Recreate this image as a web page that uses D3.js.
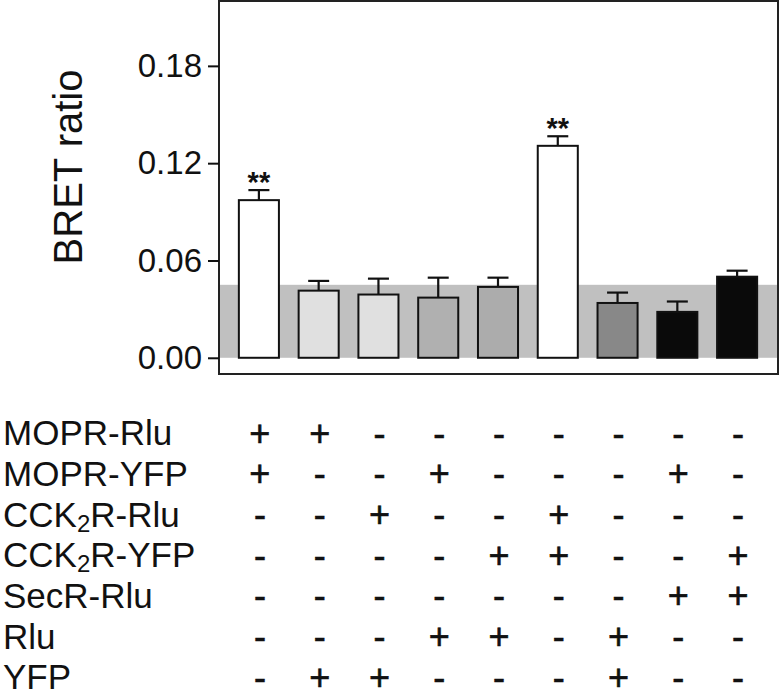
<!DOCTYPE html>
<html>
<head>
    <title>BRET ratio</title>
    <script src="https://d3js.org/d3.v7.min.js"></script>
    <style>
        body { margin: 0; background: #fff; }
        text { font-family: "Liberation Sans", Arial, sans-serif; fill: #111; }
    </style>
</head>
<body>
<script>
// bar values
const conditions = ['c1', 'c2', 'c3', 'c4', 'c5', 'c6', 'c7', 'c8', 'c9'];
const bretMeans = [0.0972, 0.0414, 0.0390, 0.0371, 0.0437, 0.1307, 0.0338, 0.0283, 0.0500];
const bretErrors = [0.0062, 0.0060, 0.0098, 0.0123, 0.0057, 0.0059, 0.0064, 0.0064, 0.0037];
const barColors = ['#ffffff', '#e0e0e0', '#e0e0e0', '#b0b0b0', '#acacac', '#ffffff', '#888888', '#0a0a0a', '#0a0a0a'];
const significance = ['**', '', '', '', '', '**', '', '', ''];
const backgroundLevel = 0.045;
const yTicks = [0.00, 0.06, 0.12, 0.18];

// transfection table
const rowLabels = ['MOPR-Rlu', 'MOPR-YFP', 'CCK2R-Rlu', 'CCK2R-YFP', 'SecR-Rlu', 'Rlu', 'YFP'];
const rowSigns = [
    ['+', '+', '-', '-', '-', '-', '-', '-', '-'],
    ['+', '-', '-', '+', '-', '-', '-', '+', '-'],
    ['-', '-', '+', '-', '-', '+', '-', '-', '-'],
    ['-', '-', '-', '-', '+', '+', '-', '-', '+'],
    ['-', '-', '-', '-', '-', '-', '-', '+', '+'],
    ['-', '-', '-', '+', '+', '-', '+', '-', '-'],
    ['-', '+', '+', '-', '-', '-', '+', '-', '-']
];

const width = 780, height = 691;
const frameLeft = 219, frameRight = 778;

const svg = d3.select('body')
    .append('svg')
    .attr('width', width)
    .attr('height', height);

const x = d3.scaleBand()
    .domain(conditions)
    .range([229, 767])
    .paddingInner(0.33)
    .paddingOuter(0.165);

const y = d3.scaleLinear()
    .domain([-0.01, 0.22])
    .range([374, 1]);

// grey background band
svg.append('rect')
    .attr('x', frameLeft)
    .attr('y', y(backgroundLevel))
    .attr('width', frameRight - frameLeft)
    .attr('height', y(0) - y(backgroundLevel))
    .attr('fill', '#c0c0c0');

// error bars
const err = svg.append('g')
    .attr('stroke', '#111')
    .attr('stroke-width', 2.2);

err.selectAll('line.stem')
    .data(conditions)
    .enter()
    .append('line')
    .attr('class', 'stem')
    .attr('x1', d => x(d) + x.bandwidth() / 2)
    .attr('x2', d => x(d) + x.bandwidth() / 2)
    .attr('y1', (d, i) => y(bretMeans[i]))
    .attr('y2', (d, i) => y(bretMeans[i] + bretErrors[i]));

err.selectAll('line.cap')
    .data(conditions)
    .enter()
    .append('line')
    .attr('class', 'cap')
    .attr('x1', d => x(d) + x.bandwidth() / 2 - 10.5)
    .attr('x2', d => x(d) + x.bandwidth() / 2 + 10.5)
    .attr('y1', (d, i) => y(bretMeans[i] + bretErrors[i]))
    .attr('y2', (d, i) => y(bretMeans[i] + bretErrors[i]));

// bars
svg.selectAll('rect.bar')
    .data(conditions)
    .enter()
    .append('rect')
    .attr('class', 'bar')
    .attr('x', d => x(d))
    .attr('y', (d, i) => y(bretMeans[i]))
    .attr('width', x.bandwidth())
    .attr('height', (d, i) => y(0) - y(bretMeans[i]))
    .attr('fill', (d, i) => barColors[i])
    .attr('stroke', '#111')
    .attr('stroke-width', 2);

// significance stars
svg.selectAll('text.sig')
    .data(conditions)
    .enter()
    .append('text')
    .attr('class', 'sig')
    .attr('x', d => x(d) + x.bandwidth() / 2)
    .attr('y', (d, i) => y(bretMeans[i] + bretErrors[i]) + 2)
    .attr('text-anchor', 'middle')
    .attr('font-size', 29)
    .attr('font-weight', 'bold')
    .text((d, i) => significance[i]);

// frame
svg.append('rect')
    .attr('x', frameLeft)
    .attr('y', y(0.22))
    .attr('width', frameRight - frameLeft)
    .attr('height', y(-0.01) - y(0.22))
    .attr('fill', 'none')
    .attr('stroke', '#222')
    .attr('stroke-width', 2);

// y axis
const yAxis = svg.append('g')
    .attr('transform', `translate(${frameLeft},0)`)
    .call(d3.axisLeft(y).tickValues(yTicks).tickFormat(d3.format('.2f')).tickSize(11).tickPadding(6));
yAxis.select('.domain').remove();
yAxis.selectAll('line').attr('stroke', '#111').attr('stroke-width', 2);
yAxis.selectAll('text')
    .attr('font-size', 33)
    .attr('font-family', '"Liberation Sans", Arial, sans-serif')
    .attr('fill', '#111');

svg.append('text')
    .attr('transform', 'translate(82,167) rotate(-90)')
    .attr('text-anchor', 'middle')
    .attr('font-size', 40)
    .text('BRET ratio');

// table
const rowY = d3.scalePoint()
    .domain(rowLabels)
    .range([433, 677]);

const labels = svg.selectAll('text.rowlabel')
    .data(rowLabels)
    .enter()
    .append('text')
    .attr('class', 'rowlabel')
    .attr('x', 3)
    .attr('y', d => rowY(d))
    .attr('dy', '0.35em')
    .attr('font-size', 35);

labels.each(function(d) {
    const t = d3.select(this);
    if (d.startsWith('CCK2')) {
        t.append('tspan').text('CCK');
        t.append('tspan').attr('font-size', 24).attr('dy', 5).text('2');
        t.append('tspan').attr('dy', -5).text(d.slice(4));
    } else {
        t.text(d);
    }
});

rowLabels.forEach((label, r) => {
    svg.selectAll(null)
        .data(conditions)
        .enter()
        .append('text')
        .attr('x', d => x(d) + x.bandwidth() / 2 + 1)
        .attr('y', rowY(label))
        .attr('dy', '0.35em')
        .attr('text-anchor', 'middle')
        .attr('font-size', 36)
        .attr('stroke', '#111')
        .attr('stroke-width', 0.6)
        .text((d, i) => rowSigns[r][i]);
});
</script>
</body>
</html>
